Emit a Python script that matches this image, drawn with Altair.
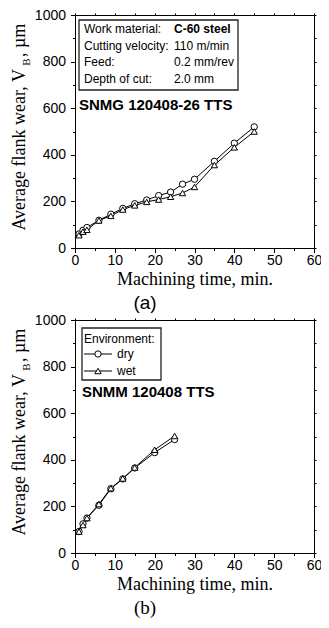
import altair as alt
import pandas as pd

# ---- data ----
time_a = [1, 2, 3, 6, 9, 12, 15, 18, 21, 24, 27, 30, 35, 40, 45]
dry_a = [60, 76, 88, 119, 145, 170, 190, 206, 225, 240, 274, 295, 372, 450, 520]
wet_a = [55, 70, 78, 118, 138, 165, 183, 198, 208, 220, 236, 262, 356, 432, 500]

time_b = [1, 2, 3, 6, 9, 12, 15, 20, 25]
dry_b = [92, 125, 150, 205, 276, 318, 365, 431, 487]
wet_b = [92, 120, 150, 210, 278, 320, 367, 443, 502]

envs = ["dry", "wet"]
x_ticks = list(range(0, 61, 5))
y_ticks = list(range(0, 1001, 100))

info_labels = ["Work material:", "Cutting velocity:", "Feed:", "Depth of cut:"]
info_values = ["C-60 steel", "110 m/min", "0.2 mm/rev", "2.0 mm"]

W, H = 239, 233
one = pd.DataFrame({"k": [0]})
SANS = "Liberation Sans"
SERIF = "Liberation Serif"


def txt(s, x, y, size=12, font=SANS, weight="normal", align="left", angle=0):
    return alt.Chart(one).mark_text(
        text=s, fontSize=size, font=font, fontWeight=weight, align=align,
        baseline="middle", angle=angle, color="black"
    ).encode(x=alt.value(x), y=alt.value(y))


def panel(times, dry, wet, label, label_font, label_y):
    n = len(times)
    df = pd.DataFrame({"t": times * 2, "vb": dry + wet, "env": ["dry"] * n + ["wet"] * n})
    xs = alt.Scale(domain=[0, 60], nice=False, zero=False)
    ys = alt.Scale(domain=[0, 1000], nice=False)
    common = dict(grid=False, domainColor="black", tickColor="black", domainWidth=1, tickWidth=1)
    bottom = alt.Axis(
        orient="bottom", values=x_ticks, format="d",
        labelExpr="datum.value % 10 ? '' : datum.label",
        tickSize={"condition": {"test": "datum.value % 10 != 0", "value": 2.5}, "value": 4.5},
        labelFont=SANS, labelFontSize=14, labelColor="black", labelPadding=1, labelFlush=False,
        labelOverlap=False,
        title="Machining time, min.", titleFont=SERIF, titleFontSize=18, titleFontWeight="normal",
        titleColor="black", titlePadding=3, **common)
    left = alt.Axis(
        orient="left", values=y_ticks, format="d",
        labelExpr="datum.value % 200 ? '' : datum.label",
        tickSize={"condition": {"test": "datum.value % 200 != 0", "value": 2.5}, "value": 4.5},
        labelFont=SANS, labelFontSize=14, labelColor="black", labelPadding=5, labelFlush=False,
        labelOverlap=False, title=None, **common)
    top = alt.Axis(orient="top", values=x_ticks, labels=False, title=None, tickSize=2, **common)
    right = alt.Axis(orient="right", values=y_ticks, labels=False, title=None, tickSize=2, **common)

    lines = alt.Chart(df).mark_line(color="black", strokeWidth=1).encode(
        x=alt.X("t:Q", scale=xs, axis=bottom),
        y=alt.Y("vb:Q", scale=ys, axis=left),
        detail="env:N",
    )
    pts = alt.Chart(df).mark_point(filled=True, fill="white", stroke="black", strokeWidth=1,
                                   size=40, opacity=1).encode(
        x=alt.X("t:Q", scale=xs, axis=top),
        y=alt.Y("vb:Q", scale=ys, axis=right),
        shape=alt.Shape("env:N", scale=alt.Scale(domain=envs, range=["circle", "triangle-up"]),
                        legend=None),
    )
    ytitle = [
        txt("Average flank wear,  V", -55, 54, size=18, font=SERIF, align="right", angle=270),
        txt("B", -48, 47, size=11, font=SERIF, align="center", angle=270),
        txt(",  µm", -55, 42, size=18, font=SERIF, align="left", angle=270),
    ]
    lab = txt(label, 70, label_y, size=19, font=label_font, align="center")
    return lines, pts, ytitle, lab


# panel (a)
la, pa, ya, laba = panel(time_a, dry_a, wet_a, "(a)", SANS, H + 55)
box_a = alt.Chart(one).mark_rect(fill="white", stroke="#222", strokeWidth=1.3).encode(
    x=alt.value(4), x2=alt.value(163), y=alt.value(5), y2=alt.value(75))
info = []
for i, (l, v) in enumerate(zip(info_labels, info_values)):
    yy = 14 + i * 16.5
    info.append(txt(l, 9, yy, size=12))
    info.append(txt(v, 99, yy, size=12, weight="bold" if i == 0 else "normal"))
tool_a = txt("SNMG 120408-26 TTS", 4, 90, size=15, weight="bold")
chart_a = alt.layer(box_a, la, pa, *info, tool_a, *ya, laba).resolve_axis(
    x="independent", y="independent").properties(width=W, height=H)

# panel (b)
lb, pb, yb, labb = panel(time_b, dry_b, wet_b, "(b)", SERIF, H + 55)
box_b = alt.Chart(one).mark_rect(fill="white", stroke="#222", strokeWidth=1.3).encode(
    x=alt.value(7), x2=alt.value(86), y=alt.value(8), y2=alt.value(60))
leg = [txt("Environment:", 9, 19, size=12)]
for i, (e, shp) in enumerate(zip(envs, ["circle", "triangle-up"])):
    yy = 34 + i * 17
    leg.append(alt.Chart(one).mark_rule(color="black", strokeWidth=1).encode(
        x=alt.value(9), x2=alt.value(37), y=alt.value(yy)))
    leg.append(alt.Chart(one).mark_point(shape=shp, filled=True, fill="white", stroke="black",
                                         strokeWidth=1, size=40, opacity=1).encode(
        x=alt.value(23), y=alt.value(yy)))
    leg.append(txt(e, 42, yy, size=12))
tool_b = txt("SNMM 120408 TTS", 7, 72, size=15, weight="bold")
chart_b = alt.layer(box_b, lb, pb, *leg, tool_b, *yb, labb).resolve_axis(
    x="independent", y="independent").properties(width=W, height=H)

chart = alt.vconcat(chart_a, chart_b, spacing=0).properties(
    padding={"left": 3, "top": 0, "right": -1, "bottom": 0}
).configure_view(stroke=None)

chart.save("out.html", embed_options={"renderer": "svg", "actions": False})
